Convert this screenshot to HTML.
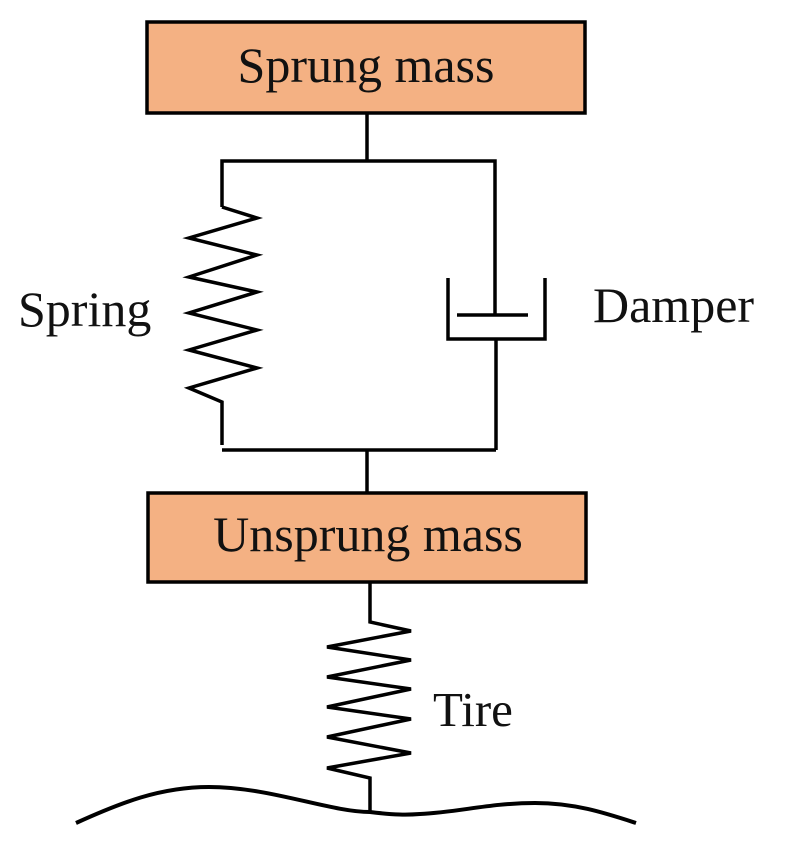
<!DOCTYPE html>
<html><head><meta charset="utf-8"><style>
html,body{margin:0;padding:0;background:#fff;}
svg{display:block;}
text{font-family:"Liberation Serif",serif;fill:#111;}
</style></head><body>
<svg width="786" height="859" viewBox="0 0 786 859" xmlns="http://www.w3.org/2000/svg">
<g stroke="#000" stroke-width="3.5" fill="none" stroke-linejoin="miter">
<rect x="147" y="22" width="438" height="91" fill="#f4b183"/>
<rect x="148" y="493" width="438" height="89" fill="#f4b183"/>
<line x1="367" y1="113" x2="367" y2="161"/>
<polyline points="222,207 222,161 495,161 495,315"/>
<polyline points="222,207 257,218 189,238 257,255 189,277 257,292 189,313 257,330 189,350 257,368 189,388 222,402 222,445"/>
<line x1="222" y1="450" x2="496" y2="450"/>
<line x1="457" y1="315" x2="528" y2="315"/>
<polyline points="448,278 448,339 545,339 545,278"/>
<line x1="496" y1="339" x2="496" y2="450"/>
<line x1="367" y1="450" x2="367" y2="493"/>
<polyline points="370,582 370,622 411,631 327,647 411,660 327,677 411,689 327,707 411,719 327,737 411,753 327,768 370,778 370,812"/>
<path stroke-width="4" d="M76,823 C120,803 160,787 209,787 C270,787 330,812 370,812 C395,815 407,815 420,814 C460,812 490,803 535,803 C575,803 605,813 636,823"/>
</g>
<text x="366" y="82" font-size="50" text-anchor="middle">Sprung mass</text>
<text x="368" y="551" font-size="50" text-anchor="middle">Unsprung mass</text>
<text x="18" y="326" font-size="50">Spring</text>
<text x="593" y="322" font-size="50">Damper</text>
<text x="433" y="726" font-size="49">Tire</text>
</svg>
</body></html>
